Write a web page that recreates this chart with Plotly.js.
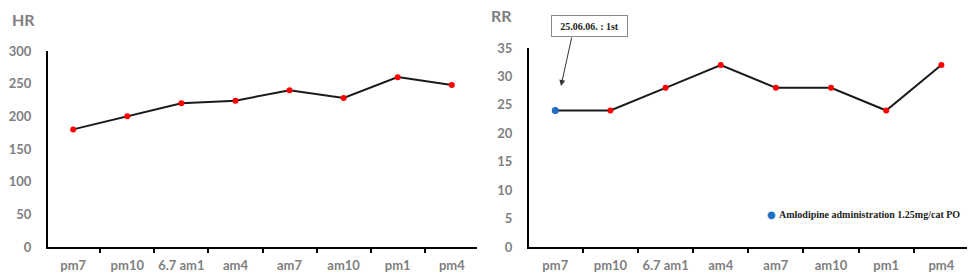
<!DOCTYPE html>
<html><head><meta charset="utf-8">
<script src="https://cdn.plot.ly/plotly-3.0.1.min.js"></script>
<style>html,body{margin:0;padding:0;background:#fff}#c{width:979px;height:278px}</style>
</head><body><div id="c"></div>
<script>
const categories = ['pm7','pm10','6.7 am1','am4','am7','am10','pm1','pm4'];
const hrValues = [180, 200, 220, 224, 240, 228, 260, 248];
const rrValues = [24, 24, 28, 32, 28, 28, 24, 32];
const doseCategories = ['pm7'];
const doseValues = [24];
const legendLabel = 'Amlodipine administration 1.25mg/cat PO';
const noteText = '25.06.06. : 1st';

const gray = '#7f7f7f';
const blue = '#1f6fc5';
const tickFont = {family: 'Lato, sans-serif', size: 13, color: gray, weight: 700};

const traces = [
  {x: categories, y: hrValues, xaxis: 'x', yaxis: 'y', mode: 'lines+markers', showlegend: false,
   line: {color: '#1a1a1a', width: 2}, marker: {color: '#ff0000', size: 6}},
  {x: categories, y: rrValues, xaxis: 'x2', yaxis: 'y2', mode: 'lines+markers', showlegend: false,
   line: {color: '#1a1a1a', width: 2}, marker: {color: '#ff0000', size: 6}},
  {x: doseCategories, y: doseValues, xaxis: 'x2', yaxis: 'y2', mode: 'markers', name: legendLabel,
   showlegend: false, marker: {color: blue, size: 7}}
];

function xax(dom) {
  return {domain: dom, type: 'category', showline: true, linecolor: '#000', linewidth: 2,
    ticks: 'outside', tickson: 'boundaries', ticklen: 4, tickwidth: 2, tickcolor: '#000',
    tickangle: 0, showgrid: false, zeroline: false, tickfont: tickFont, ticklabelstandoff: 5, fixedrange: true};
}
function yax(dom, range, dtick, anchor) {
  return {domain: dom, range: range, dtick: dtick, anchor: anchor, showline: true, linecolor: '#000',
    linewidth: 2, ticks: '', showgrid: false, zeroline: false, tickfont: tickFont,
    ticklabelstandoff: 12, fixedrange: true};
}

const layout = {
  width: 979, height: 278,
  margin: {l: 0, r: 0, t: 0, b: 0, autoexpand: false},
  paper_bgcolor: '#fff', plot_bgcolor: '#fff',
  showlegend: false,
  xaxis: Object.assign(xax([48/979, 477/979]), {anchor: 'y'}),
  yaxis: yax([1-247/278, 1-51/278], [0, 300], 50, 'x'),
  xaxis2: Object.assign(xax([529/979, 967/979]), {anchor: 'y2'}),
  yaxis2: yax([1-247/278, 1-48/278], [0, 35], 5, 'x2'),
  annotations: [
    {text: '<b>HR</b>', xref: 'paper', yref: 'paper', x: 10/979, y: 1-19/278, xanchor: 'left', yanchor: 'middle',
     showarrow: false, font: {family: 'Lato, sans-serif', size: 16, color: gray}},
    {text: '<b>RR</b>', xref: 'paper', yref: 'paper', x: 489/979, y: 1-15/278, xanchor: 'left', yanchor: 'middle',
     showarrow: false, font: {family: 'Lato, sans-serif', size: 16, color: gray}},
    {text: '<b>' + noteText + '</b>', xref: 'paper', yref: 'paper', x: 589.5/979, y: 1-26/278,
     xanchor: 'center', yanchor: 'middle', showarrow: false, bordercolor: '#888', borderwidth: 1,
     borderpad: 4, bgcolor: '#fff', width: 67, height: 12,
     font: {family: 'Liberation Serif, serif', size: 10, color: '#222'}},
    {text: '', xref: 'paper', yref: 'paper', x: 561/979, y: 1-86/278, ax: 11, ay: -50,
     showarrow: true, arrowhead: 2, arrowsize: 1.2, arrowwidth: 1, arrowcolor: '#333', standoff: 0, startstandoff: 0},
    {text: '●', xref: 'paper', yref: 'paper', x: 771/979, y: 1-214/278, xanchor: 'center', yanchor: 'middle',
     showarrow: false, font: {family: 'DejaVu Sans, sans-serif', size: 10, color: blue}},
    {text: '<b>' + legendLabel + '</b>', xref: 'paper', yref: 'paper', x: 777/979, y: 1-214/278,
     xanchor: 'left', yanchor: 'middle', showarrow: false,
     font: {family: 'Liberation Serif, serif', size: 10, color: '#222'}}
  ]
};

Plotly.newPlot('c', traces, layout, {displayModeBar: false, staticPlot: true});
</script>
</body></html>
